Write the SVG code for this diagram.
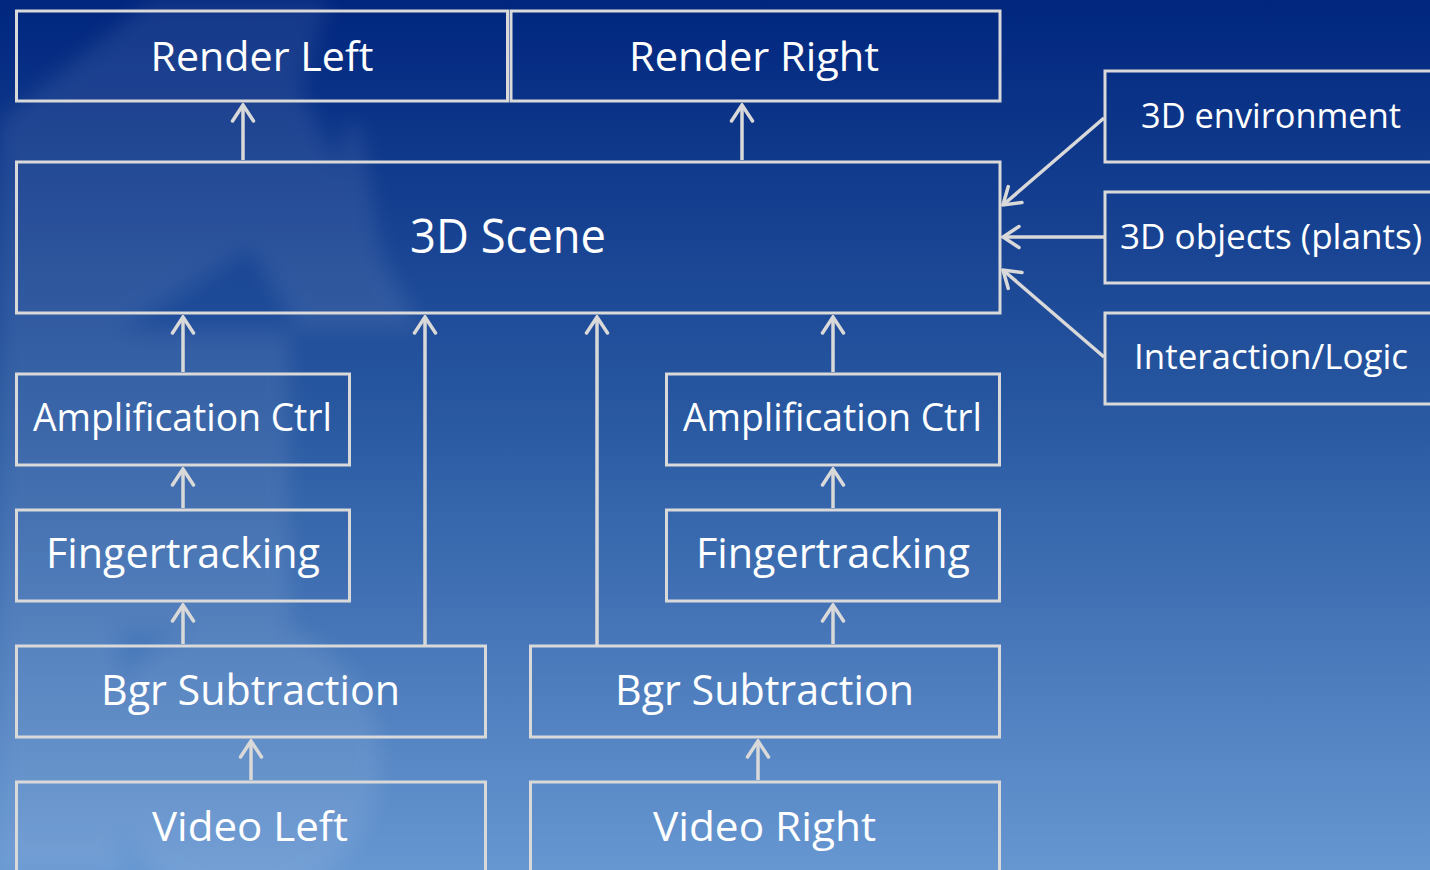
<svg xmlns="http://www.w3.org/2000/svg" width="1430" height="870" viewBox="0 0 1430 870">
  <defs>
    <linearGradient id="bg" x1="0" y1="0" x2="0" y2="1">
      <stop offset="0" stop-color="#00267e"/>
      <stop offset="0.5" stop-color="#2b5ba3"/>
      <stop offset="1" stop-color="#6797d1"/>
    </linearGradient>
    <filter id="soft" x="-20%" y="-20%" width="140%" height="140%">
      <feGaussianBlur stdDeviation="10"/>
    </filter>
    <marker id="arr" viewBox="-20 -14 22 28" markerWidth="22" markerHeight="28" refX="0" refY="0" orient="auto" markerUnits="userSpaceOnUse">
      <path d="M -16,-10.5 L 0,0 L -16,10.5" fill="none" stroke="#d9d9d9" stroke-width="3.5" stroke-linecap="round" stroke-linejoin="miter"/>
    </marker>
    <style>
      .box { fill: none; stroke: #d9d9d9; stroke-width: 3; }
      .lbl { font-family: "Open Sans", "Noto Sans", "Liberation Sans", sans-serif; fill: #ffffff; text-anchor: middle; }
      .conn { stroke: #d9d9d9; stroke-width: 3.5; fill: none; marker-end: url(#arr); }
      .deco { fill: #ffffff; }
    </style>
  </defs>

  <rect x="0" y="0" width="1430" height="870" fill="url(#bg)"/>

  <!-- faint background building -->
  <g id="background-building" opacity="0.08" filter="url(#soft)">
    <polygon class="deco" points="150,0 330,0 300,90 420,330 300,330 250,250 120,330 0,330 0,120"/>
    <polygon class="deco" points="345,125 360,125 395,330 310,330"/>
    <rect class="deco" x="0" y="330" width="290" height="300"/>
    <circle class="deco" cx="240" cy="760" r="140"/>
    <rect class="deco" x="0" y="630" width="120" height="240"/>
  </g>

  <g id="connectors">
    <line class="conn" x1="243" y1="160" x2="243" y2="105"/>
    <line class="conn" x1="742" y1="160" x2="742" y2="105"/>
    <line class="conn" x1="183" y1="372" x2="183" y2="317"/>
    <line class="conn" x1="425" y1="645" x2="425" y2="317"/>
    <line class="conn" x1="597" y1="645" x2="597" y2="317"/>
    <line class="conn" x1="833" y1="372" x2="833" y2="317"/>
    <line class="conn" x1="183" y1="508" x2="183" y2="469"/>
    <line class="conn" x1="833" y1="508" x2="833" y2="469"/>
    <line class="conn" x1="183" y1="644" x2="183" y2="605"/>
    <line class="conn" x1="833" y1="644" x2="833" y2="605"/>
    <line class="conn" x1="251" y1="780" x2="251" y2="741"/>
    <line class="conn" x1="758" y1="780" x2="758" y2="741"/>
    <line class="conn" x1="1104" y1="118" x2="1003" y2="205"/>
    <line class="conn" x1="1104" y1="237" x2="1003" y2="237"/>
    <line class="conn" x1="1104" y1="357" x2="1003" y2="270"/>
  </g>

  <g id="render-left">
    <rect class="box" x="16.5" y="11" width="491" height="90"/>
    <text class="lbl" x="262" y="71" font-size="41" textLength="223" lengthAdjust="spacingAndGlyphs">Render Left</text>
  </g>
  <g id="render-right">
    <rect class="box" x="511" y="11" width="489" height="90"/>
    <text class="lbl" x="754" y="71" font-size="41" textLength="250" lengthAdjust="spacingAndGlyphs">Render Right</text>
  </g>
  <g id="scene-3d">
    <rect class="box" x="16.5" y="162" width="983.5" height="151"/>
    <text class="lbl" x="508" y="253" font-size="47" textLength="196" lengthAdjust="spacingAndGlyphs">3D Scene</text>
  </g>
  <g id="env-3d">
    <rect class="box" x="1105" y="71" width="340" height="91"/>
    <text class="lbl" x="1271" y="128" font-size="35" textLength="260" lengthAdjust="spacingAndGlyphs">3D environment</text>
  </g>
  <g id="objects-3d">
    <rect class="box" x="1105" y="192" width="340" height="91"/>
    <text class="lbl" x="1271" y="249" font-size="35" textLength="302" lengthAdjust="spacingAndGlyphs">3D objects (plants)</text>
  </g>
  <g id="interaction-logic">
    <rect class="box" x="1105" y="313" width="340" height="91"/>
    <text class="lbl" x="1271" y="369" font-size="35" textLength="274" lengthAdjust="spacingAndGlyphs">Interaction/Logic</text>
  </g>
  <g id="amp-left">
    <rect class="box" x="16.5" y="374" width="333" height="91"/>
    <text class="lbl" x="182.5" y="431" font-size="38" textLength="299" lengthAdjust="spacingAndGlyphs">Amplification Ctrl</text>
  </g>
  <g id="amp-right">
    <rect class="box" x="666.5" y="374" width="333" height="91"/>
    <text class="lbl" x="832.5" y="431" font-size="38" textLength="299" lengthAdjust="spacingAndGlyphs">Amplification Ctrl</text>
  </g>
  <g id="finger-left">
    <rect class="box" x="16.5" y="510" width="333" height="91"/>
    <text class="lbl" x="183" y="568" font-size="42" textLength="274" lengthAdjust="spacingAndGlyphs">Fingertracking</text>
  </g>
  <g id="finger-right">
    <rect class="box" x="666.5" y="510" width="333" height="91"/>
    <text class="lbl" x="833" y="568" font-size="42" textLength="274" lengthAdjust="spacingAndGlyphs">Fingertracking</text>
  </g>
  <g id="bgr-left">
    <rect class="box" x="16.5" y="646" width="469" height="91"/>
    <text class="lbl" x="250.5" y="705" font-size="42" textLength="299" lengthAdjust="spacingAndGlyphs">Bgr Subtraction</text>
  </g>
  <g id="bgr-right">
    <rect class="box" x="530.5" y="646" width="469" height="91"/>
    <text class="lbl" x="764.5" y="705" font-size="42" textLength="299" lengthAdjust="spacingAndGlyphs">Bgr Subtraction</text>
  </g>
  <g id="video-left">
    <rect class="box" x="16.5" y="782" width="469" height="100"/>
    <text class="lbl" x="250" y="841" font-size="41" textLength="196" lengthAdjust="spacingAndGlyphs">Video Left</text>
  </g>
  <g id="video-right">
    <rect class="box" x="530.5" y="782" width="469" height="100"/>
    <text class="lbl" x="764.5" y="841" font-size="41" textLength="223" lengthAdjust="spacingAndGlyphs">Video Right</text>
  </g>
</svg>
